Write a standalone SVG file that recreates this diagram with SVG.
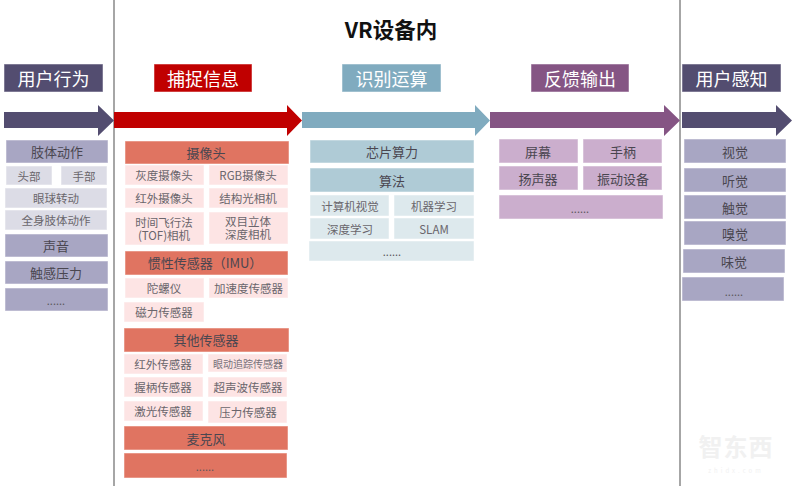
<svg xmlns="http://www.w3.org/2000/svg" width="800" height="486" viewBox="0 0 800 486">
<style>
text{font-family:"Noto Sans CJK SC","Liberation Sans",sans-serif;text-anchor:middle;dominant-baseline:central}
.h{font-size:18px;fill:#fff}
.m{font-size:13px;fill:#4a4650}
.s{font-size:11.5px;fill:#6a666c}
.t{font-size:10px;fill:#77727a}
.d{font-size:11px;fill:#5a565c}
.ml{dominant-baseline:auto}
.b rect{stroke:#fff;stroke-opacity:.5;stroke-width:1}
.u{fill:#534d70}.r{fill:#c00000}.c{fill:#80abbf}.p{fill:#855584}
.u2{fill:#a8a6c3}.u3{fill:#dcdce6}.r2{fill:#e07461}.r3{fill:#fde4e4}.c2{fill:#afcbd6}.c3{fill:#dde9ed}.p2{fill:#cbaecd}
.line{stroke:#a6a6a6;stroke-width:2;fill:none}
</style>
<g id="connectors">
<path class="line" d="M114 0V486"/>
<path class="line" d="M680 0V486"/>
<polygon class="u" points="4,112 98,112 98,105 114,120.500 98,136 98,128 4,128"/>
<polygon class="r" points="114,112 287,112 287,105 302,120.500 287,136 287,128 114,128"/>
<polygon class="c" points="302,112 475,112 475,105 490,120.500 475,136 475,128 302,128"/>
<polygon class="p" points="490,112 664,112 664,105 680,120.500 664,136 664,128 490,128"/>
<polygon class="u" points="682,112 776,112 776,105 792,120.500 776,136 776,128 682,128"/>
</g>
<text id="title" x="391" y="28" style="font-size:21.500px;font-weight:700;fill:#111">VR设备内</text>
<g id="head-user-behavior" class="b"><rect class="u" x="4" y="64" width="99" height="28"/><text class="h" x="53.500" y="78">用户行为</text></g>
<g id="head-capture" class="b"><rect class="r" x="154" y="64" width="98" height="28"/><text class="h" x="203" y="78">捕捉信息</text></g>
<g id="head-compute" class="b"><rect class="c" x="342" y="64" width="99" height="28"/><text class="h" x="391.500" y="78">识别运算</text></g>
<g id="head-feedback" class="b"><rect class="p" x="531" y="64" width="98" height="28"/><text class="h" x="580" y="78">反馈输出</text></g>
<g id="head-user-perception" class="b"><rect class="u" x="682" y="64" width="99" height="28"/><text class="h" x="731.500" y="78">用户感知</text></g>

<g id="a1" class="b"><rect class="u2" x="6" y="140" width="102" height="23"/><text class="m" x="57" y="151.500">肢体动作</text></g>
<g id="a2" class="b"><rect class="u3" x="6" y="166" width="46" height="19"/><text class="s" x="29" y="175.500">头部</text></g>
<g id="a3" class="b"><rect class="u3" x="61" y="166" width="46" height="19"/><text class="s" x="84" y="175.500">手部</text></g>
<g id="a4" class="b"><rect class="u3" x="5" y="188" width="102" height="20"/><text class="s" x="56" y="198">眼球转动</text></g>
<g id="a5" class="b"><rect class="u3" x="5" y="210" width="102" height="20"/><text class="s" x="56" y="220">全身肢体动作</text></g>
<g id="a6" class="b"><rect class="u2" x="5" y="234" width="103" height="23"/><text class="m" x="56" y="245.500">声音</text></g>
<g id="a7" class="b"><rect class="u2" x="5" y="261" width="103" height="23"/><text class="m" x="56" y="272.500">触感压力</text></g>
<g id="a8" class="b"><rect class="u2" x="5" y="288" width="103" height="23"/><text class="d" x="56" y="299.500">......</text></g>

<g id="b1" class="b"><rect class="r2" x="125" y="141" width="164" height="23"/><text class="m" x="206" y="152.500">摄像头</text></g>
<g id="b2" class="b"><rect class="r3" x="125" y="165" width="79" height="20"/><text class="s" x="164" y="175">灰度摄像头</text></g>
<g id="b3" class="b"><rect class="r3" x="209" y="165" width="79" height="20"/><text class="s" x="248" y="175">RGB摄像头</text></g>
<g id="b4" class="b"><rect class="r3" x="125" y="188" width="79" height="20"/><text class="s" x="164" y="198">红外摄像头</text></g>
<g id="b5" class="b"><rect class="r3" x="209" y="188" width="79" height="20"/><text class="s" x="248" y="198">结构光相机</text></g>
<g id="b6" class="b"><rect class="r3" x="125" y="212" width="79" height="33"/><text class="s ml" x="164" y="227"><tspan x="164">时间飞行法</tspan><tspan x="164" dy="13">(TOF)相机</tspan></text></g>
<g id="b7" class="b"><rect class="r3" x="209" y="212" width="79" height="32"/><text class="s ml" x="248" y="225.500"><tspan x="248">双目立体</tspan><tspan x="248" dy="13">深度相机</tspan></text></g>
<g id="b8" class="b"><rect class="r2" x="125" y="251" width="163" height="24"/><text class="m" x="205" y="262.500">惯性传感器（IMU）</text></g>
<g id="b9" class="b"><rect class="r3" x="125" y="278" width="79" height="20"/><text class="s" x="164" y="288">陀螺仪</text></g>
<g id="b10" class="b"><rect class="r3" x="209" y="278" width="79" height="20"/><text class="s" x="248.500" y="288">加速度传感器</text></g>
<g id="b11" class="b"><rect class="r3" x="124" y="302" width="80" height="20"/><text class="s" x="164" y="312">磁力传感器</text></g>
<g id="b12" class="b"><rect class="r2" x="124" y="328" width="165" height="24"/><text class="m" x="206" y="339.500">其他传感器</text></g>
<g id="b13" class="b"><rect class="r3" x="124" y="354" width="79" height="20"/><text class="s" x="163" y="364">红外传感器</text></g>
<g id="b14" class="b"><rect class="r3" x="208" y="354" width="79" height="18"/><text class="t" x="248" y="363">眼动追踪传感器</text></g>
<g id="b15" class="b"><rect class="r3" x="124" y="377" width="79" height="20"/><text class="s" x="163" y="387">握柄传感器</text></g>
<g id="b16" class="b"><rect class="r3" x="208" y="377" width="79" height="20"/><text class="s" x="248" y="387">超声波传感器</text></g>
<g id="b17" class="b"><rect class="r3" x="124" y="401" width="79" height="20"/><text class="s" x="163" y="411">激光传感器</text></g>
<g id="b18" class="b"><rect class="r3" x="208" y="401" width="79" height="22"/><text class="s" x="248" y="412">压力传感器</text></g>
<g id="b19" class="b"><rect class="r2" x="124" y="426" width="164" height="24"/><text class="m" x="206" y="438">麦克风</text></g>
<g id="b20" class="b"><rect class="r2" x="124" y="453" width="163" height="25"/><text class="d" x="205" y="466">......</text></g>

<g id="c1" class="b"><rect class="c2" x="310" y="140" width="164" height="23"/><text class="m" x="392" y="151.500">芯片算力</text></g>
<g id="c2" class="b"><rect class="c2" x="310" y="168" width="164" height="24"/><text class="m" x="392" y="180">算法</text></g>
<g id="c3" class="b"><rect class="c3" x="310" y="195" width="79" height="21"/><text class="s" x="350" y="205.500">计算机视觉</text></g>
<g id="c4" class="b"><rect class="c3" x="394" y="195" width="80" height="21"/><text class="s" x="434" y="205.500">机器学习</text></g>
<g id="c5" class="b"><rect class="c3" x="310" y="218" width="79" height="21"/><text class="s" x="350" y="228.500">深度学习</text></g>
<g id="c6" class="b"><rect class="c3" x="394" y="218" width="80" height="21"/><text class="s" x="434" y="228.500">SLAM</text></g>
<g id="c7" class="b"><rect class="c3" x="309" y="241" width="165" height="20"/><text class="d" x="392" y="251">......</text></g>

<g id="d1" class="b"><rect class="p2" x="499" y="139" width="79" height="24"/><text class="m" x="538" y="151">屏幕</text></g>
<g id="d2" class="b"><rect class="p2" x="583" y="139" width="79" height="24"/><text class="m" x="623" y="151">手柄</text></g>
<g id="d3" class="b"><rect class="p2" x="499" y="166" width="79" height="24"/><text class="m" x="538" y="178">扬声器</text></g>
<g id="d4" class="b"><rect class="p2" x="583" y="166" width="79" height="24"/><text class="m" x="623" y="178">振动设备</text></g>
<g id="d5" class="b"><rect class="p2" x="499" y="195" width="164" height="24"/><text class="d" x="580" y="208">......</text></g>

<g id="e1" class="b"><rect class="u2" x="684" y="139" width="102" height="24"/><text class="m" x="735" y="151">视觉</text></g>
<g id="e2" class="b"><rect class="u2" x="684" y="168" width="102" height="24"/><text class="m" x="735" y="180">听觉</text></g>
<g id="e3" class="b"><rect class="u2" x="684" y="195" width="102" height="24"/><text class="m" x="735" y="207">触觉</text></g>
<g id="e4" class="b"><rect class="u2" x="684" y="221" width="102" height="24"/><text class="m" x="735" y="233">嗅觉</text></g>
<g id="e5" class="b"><rect class="u2" x="683" y="249" width="102" height="24"/><text class="m" x="734" y="261">味觉</text></g>
<g id="e6" class="b"><rect class="u2" x="682" y="277" width="102" height="24"/><text class="d" x="734" y="291">......</text></g>

<g id="watermark"><text x="736" y="445" style="font-size:24px;font-weight:700;fill:#f1f1f1;letter-spacing:1px">智东西</text><text x="736" y="470" style="font-size:6px;fill:#f1f1f1;letter-spacing:3px">zhidx.com</text></g>
</svg>
